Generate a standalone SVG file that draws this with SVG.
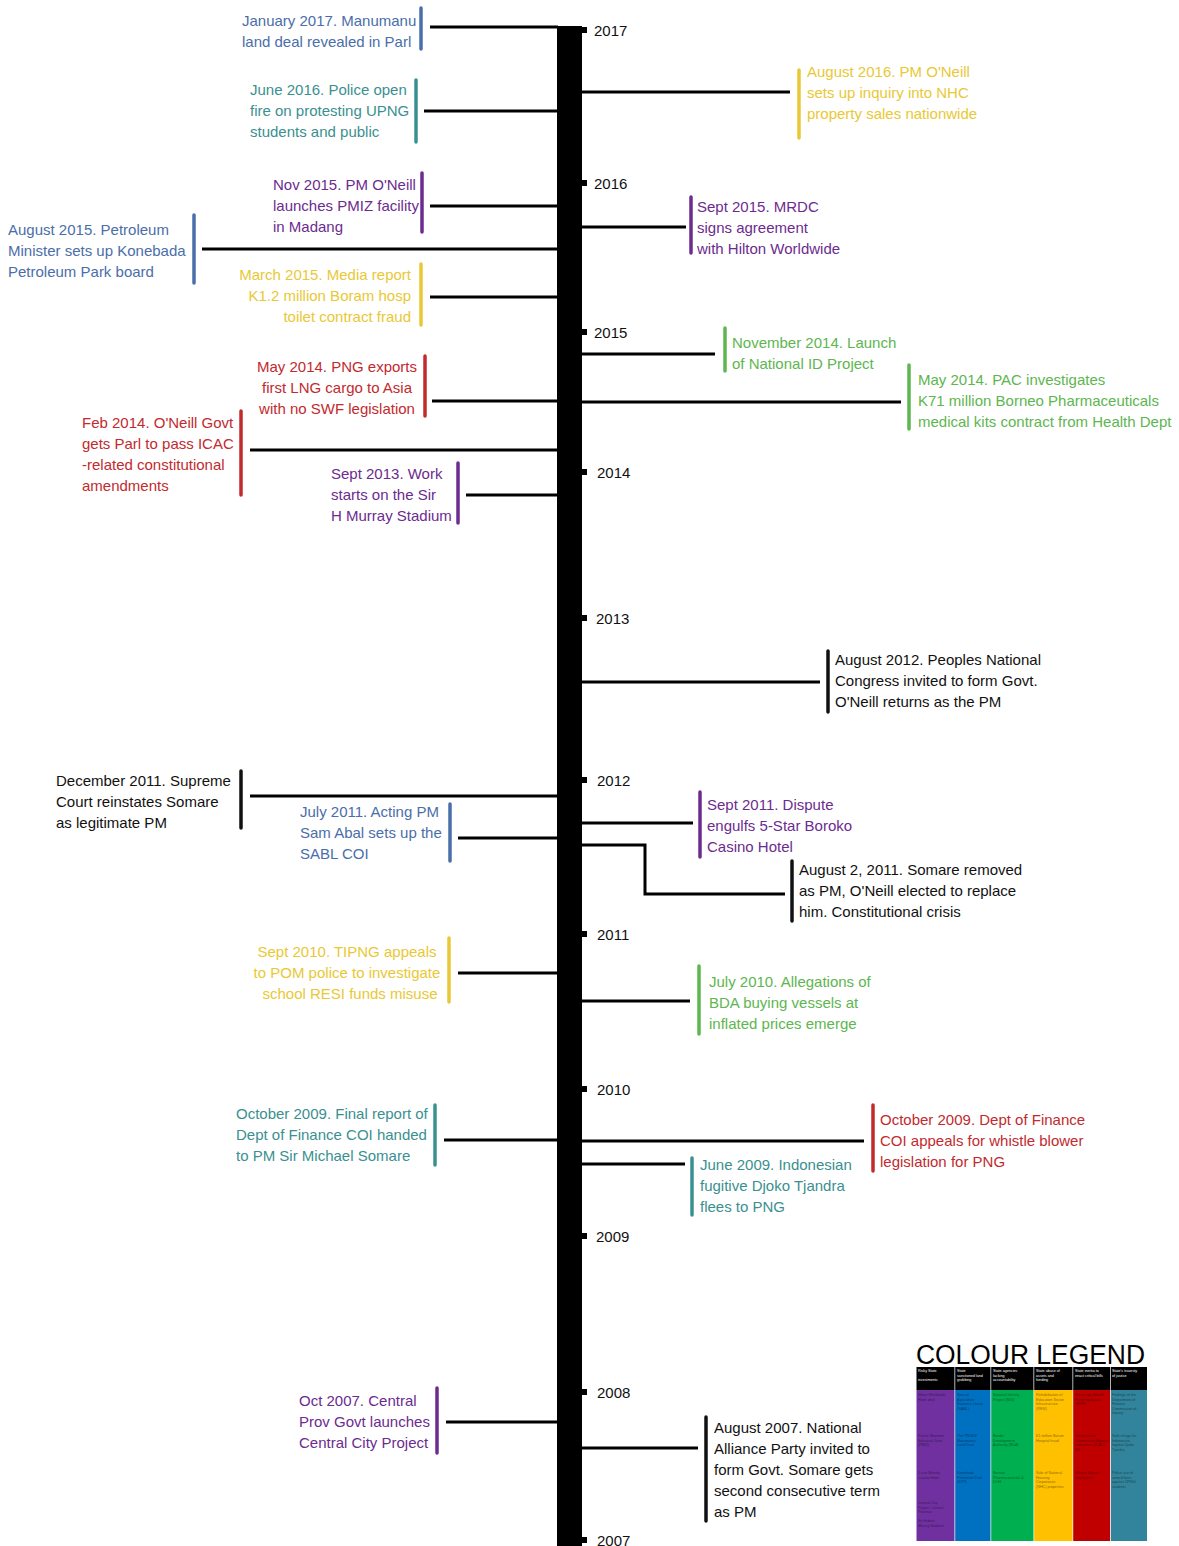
<svg xmlns="http://www.w3.org/2000/svg" width="1179" height="1546" viewBox="0 0 1179 1546">
<style>
text{font-family:"Liberation Sans",Arial,sans-serif;font-size:15px}
.blue{fill:#4a6ea9}.teal{fill:#3a9090}.purple{fill:#6c2b8f}.yellow{fill:#e9c834}.red{fill:#c22a2e}.green{fill:#5db64f}.black{fill:#111}
.bar{stroke-width:3.5;stroke-linecap:round;fill:none}
.bblue{stroke:#4a6ea9}.bteal{stroke:#3a9090}.bpurple{stroke:#6c2b8f}.byellow{stroke:#e9c834}.bred{stroke:#c22a2e}.bgreen{stroke:#5db64f}.bblack{stroke:#111}
.conn{stroke:#000;stroke-width:3;fill:none}
.year{fill:#111}
.lh text{font-size:3.7px;fill:#fff}
.lb text{font-size:3.7px;fill:rgba(0,0,0,0.5)}
</style>
<rect width="1179" height="1546" fill="#fff"/>
<g id="spine">
<rect x="557" y="26" width="25" height="1520" fill="#000"/>
<g fill="#000">
<rect x="580" y="27" width="7" height="6"/><rect x="580" y="180" width="7" height="6"/><rect x="580" y="329" width="7" height="6"/><rect x="580" y="469" width="7" height="6"/><rect x="580" y="615" width="7" height="6"/><rect x="580" y="777" width="7" height="6"/><rect x="580" y="931" width="7" height="6"/><rect x="580" y="1086" width="7" height="6"/><rect x="580" y="1233" width="7" height="6"/><rect x="580" y="1389" width="7" height="6"/><rect x="580" y="1537" width="7" height="6"/>
</g>
<g class="year">
<text x="594" y="36">2017</text><text x="594" y="189">2016</text><text x="594" y="338">2015</text><text x="597" y="478">2014</text><text x="596" y="624">2013</text><text x="597" y="786">2012</text><text x="597" y="940">2011</text><text x="597" y="1095">2010</text><text x="596" y="1242">2009</text><text x="597" y="1398">2008</text><text x="597" y="1546">2007</text>
</g>
</g>
<g id="connectors">
<line class="conn" x1="430" y1="27" x2="558" y2="27"/>
<line class="conn" x1="424" y1="111" x2="558" y2="111"/>
<line class="conn" x1="430" y1="206" x2="558" y2="206"/>
<line class="conn" x1="202" y1="249" x2="558" y2="249"/>
<line class="conn" x1="430" y1="297" x2="558" y2="297"/>
<line class="conn" x1="432" y1="401" x2="558" y2="401"/>
<line class="conn" x1="250" y1="450" x2="558" y2="450"/>
<line class="conn" x1="466" y1="495" x2="558" y2="495"/>
<line class="conn" x1="250" y1="796" x2="558" y2="796"/>
<line class="conn" x1="458" y1="838" x2="558" y2="838"/>
<line class="conn" x1="458" y1="973" x2="558" y2="973"/>
<line class="conn" x1="444" y1="1140" x2="558" y2="1140"/>
<line class="conn" x1="446" y1="1422" x2="558" y2="1422"/>
<line class="conn" x1="581" y1="92" x2="790" y2="92"/>
<line class="conn" x1="581" y1="227" x2="686" y2="227"/>
<line class="conn" x1="581" y1="354" x2="715" y2="354"/>
<line class="conn" x1="581" y1="402" x2="901" y2="402"/>
<line class="conn" x1="581" y1="682" x2="820" y2="682"/>
<line class="conn" x1="581" y1="823" x2="693" y2="823"/>
<polyline class="conn" points="581,845 645,845 645,894 785,894"/>
<line class="conn" x1="581" y1="1001" x2="690" y2="1001"/>
<line class="conn" x1="581" y1="1141" x2="864" y2="1141"/>
<line class="conn" x1="581" y1="1164" x2="685" y2="1164"/>
<line class="conn" x1="581" y1="1448" x2="698" y2="1448"/>
</g>
<g id="n-jan2017">
<line class="bar bblue" x1="421" y1="8" x2="421" y2="49"/>
<text class="blue" x="242" y="26">January 2017. Manumanu<tspan x="242" dy="21">land deal revealed in Parl</tspan></text>
</g>
<g id="n-jun2016">
<line class="bar bteal" x1="416" y1="80" x2="416" y2="142"/>
<text class="teal" x="250" y="95">June 2016. Police open<tspan x="250" dy="21">fire on protesting UPNG</tspan><tspan x="250" dy="21">students and public</tspan></text>
</g>
<g id="n-nov2015">
<line class="bar bpurple" x1="422" y1="173" x2="422" y2="232"/>
<text class="purple" x="273" y="190">Nov 2015. PM O'Neill<tspan x="273" dy="21">launches PMIZ facility</tspan><tspan x="273" dy="21">in Madang</tspan></text>
</g>
<g id="n-aug2015">
<line class="bar bblue" x1="194" y1="215" x2="194" y2="283"/>
<text class="blue" x="8" y="235">August 2015. Petroleum<tspan x="8" dy="21">Minister sets up Konebada</tspan><tspan x="8" dy="21">Petroleum Park board</tspan></text>
</g>
<g id="n-mar2015">
<line class="bar byellow" x1="421" y1="264" x2="421" y2="325"/>
<text class="yellow" x="411" y="280" text-anchor="end">March 2015. Media report<tspan x="411" dy="21">K1.2 million Boram hosp</tspan><tspan x="411" dy="21">toilet contract fraud</tspan></text>
</g>
<g id="n-may2014a">
<line class="bar bred" x1="425" y1="356" x2="425" y2="416"/>
<text class="red" x="337" y="372" text-anchor="middle">May 2014. PNG exports<tspan x="337" dy="21">first LNG cargo to Asia</tspan><tspan x="337" dy="21">with no SWF legislation</tspan></text>
</g>
<g id="n-feb2014">
<line class="bar bred" x1="241" y1="411" x2="241" y2="495"/>
<text class="red" x="82" y="428">Feb 2014. O'Neill Govt<tspan x="82" dy="21">gets Parl to pass ICAC</tspan><tspan x="82" dy="21">-related constitutional</tspan><tspan x="82" dy="21">amendments</tspan></text>
</g>
<g id="n-sep2013">
<line class="bar bpurple" x1="458" y1="463" x2="458" y2="523"/>
<text class="purple" x="331" y="479">Sept 2013. Work<tspan x="331" dy="21">starts on the Sir</tspan><tspan x="331" dy="21">H Murray Stadium</tspan></text>
</g>
<g id="n-dec2011">
<line class="bar bblack" x1="241" y1="771" x2="241" y2="828"/>
<text class="black" x="56" y="786">December 2011. Supreme<tspan x="56" dy="21">Court reinstates Somare</tspan><tspan x="56" dy="21">as legitimate PM</tspan></text>
</g>
<g id="n-jul2011">
<line class="bar bblue" x1="450" y1="804" x2="450" y2="861"/>
<text class="blue" x="300" y="817">July 2011. Acting PM<tspan x="300" dy="21">Sam Abal sets up the</tspan><tspan x="300" dy="21">SABL COI</tspan></text>
</g>
<g id="n-sep2010">
<line class="bar byellow" x1="449" y1="938" x2="449" y2="1002"/>
<text class="yellow" x="347" y="957" text-anchor="middle">Sept 2010. TIPNG appeals<tspan x="347" dy="21">to POM police to investigate</tspan><tspan x="350" dy="21">school RESI funds misuse</tspan></text>
</g>
<g id="n-oct2009a">
<line class="bar bteal" x1="435" y1="1105" x2="435" y2="1165"/>
<text class="teal" x="236" y="1119">October 2009. Final report of<tspan x="236" dy="21">Dept of Finance COI handed</tspan><tspan x="236" dy="21">to PM Sir Michael Somare</tspan></text>
</g>
<g id="n-oct2007">
<line class="bar bpurple" x1="437" y1="1388" x2="437" y2="1453"/>
<text class="purple" x="299" y="1406">Oct 2007. Central<tspan x="299" dy="21">Prov Govt launches</tspan><tspan x="299" dy="21">Central City Project</tspan></text>
</g>
<g id="n-aug2016">
<line class="bar byellow" x1="799" y1="70" x2="799" y2="138"/>
<text class="yellow" x="807" y="77">August 2016. PM O'Neill<tspan x="807" dy="21">sets up inquiry into NHC</tspan><tspan x="807" dy="21">property sales nationwide</tspan></text>
</g>
<g id="n-sep2015">
<line class="bar bpurple" x1="691" y1="197" x2="691" y2="253"/>
<text class="purple" x="697" y="212">Sept 2015. MRDC<tspan x="697" dy="21">signs agreement</tspan><tspan x="697" dy="21">with Hilton Worldwide</tspan></text>
</g>
<g id="n-nov2014">
<line class="bar bgreen" x1="725" y1="328" x2="725" y2="371"/>
<text class="green" x="732" y="348">November 2014. Launch<tspan x="732" dy="21">of National ID Project</tspan></text>
</g>
<g id="n-may2014b">
<line class="bar bgreen" x1="909" y1="365" x2="909" y2="429"/>
<text class="green" x="918" y="385">May 2014. PAC investigates<tspan x="918" dy="21">K71 million Borneo Pharmaceuticals</tspan><tspan x="918" dy="21">medical kits contract from Health Dept</tspan></text>
</g>
<g id="n-aug2012">
<line class="bar bblack" x1="828" y1="651" x2="828" y2="712"/>
<text class="black" x="835" y="665">August 2012. Peoples National<tspan x="835" dy="21">Congress invited to form Govt.</tspan><tspan x="835" dy="21">O'Neill returns as the PM</tspan></text>
</g>
<g id="n-sep2011">
<line class="bar bpurple" x1="700" y1="792" x2="700" y2="857"/>
<text class="purple" x="707" y="810">Sept 2011. Dispute<tspan x="707" dy="21">engulfs 5-Star Boroko</tspan><tspan x="707" dy="21">Casino Hotel</tspan></text>
</g>
<g id="n-aug2011">
<line class="bar bblack" x1="792" y1="861" x2="792" y2="921"/>
<text class="black" x="799" y="875">August 2, 2011. Somare removed<tspan x="799" dy="21">as PM, O'Neill elected to replace</tspan><tspan x="799" dy="21">him. Constitutional crisis</tspan></text>
</g>
<g id="n-jul2010">
<line class="bar bgreen" x1="699" y1="966" x2="699" y2="1034"/>
<text class="green" x="709" y="987">July 2010. Allegations of<tspan x="709" dy="21">BDA buying vessels at</tspan><tspan x="709" dy="21">inflated prices emerge</tspan></text>
</g>
<g id="n-oct2009b">
<line class="bar bred" x1="873" y1="1105" x2="873" y2="1171"/>
<text class="red" x="880" y="1125">October 2009. Dept of Finance<tspan x="880" dy="21">COI appeals for whistle blower</tspan><tspan x="880" dy="21">legislation for PNG</tspan></text>
</g>
<g id="n-jun2009">
<line class="bar bteal" x1="692" y1="1158" x2="692" y2="1215"/>
<text class="teal" x="700" y="1170">June 2009. Indonesian<tspan x="700" dy="21">fugitive Djoko Tjandra</tspan><tspan x="700" dy="21">flees to PNG</tspan></text>
</g>
<g id="n-aug2007">
<line class="bar bblack" x1="706" y1="1417" x2="706" y2="1521"/>
<text class="black" x="714" y="1433">August 2007. National<tspan x="714" dy="21">Alliance Party invited to</tspan><tspan x="714" dy="21">form Govt. Somare gets</tspan><tspan x="714" dy="21">second consecutive term</tspan><tspan x="714" dy="21">as PM</tspan></text>
</g>
<g id="legend">
<text x="916" y="1364" font-size="27" textLength="229" lengthAdjust="spacingAndGlyphs" style="font-size:27px" fill="#000">COLOUR LEGEND</text>
<rect x="916.5" y="1390" width="38.5" height="151" fill="#7030a0"/>
<rect x="955" y="1390" width="36" height="151" fill="#0070c0"/>
<rect x="991" y="1390" width="43" height="151" fill="#00b050"/>
<rect x="1034" y="1390" width="39" height="151" fill="#ffc000"/>
<rect x="1073" y="1390" width="37.5" height="151" fill="#c00000"/>
<rect x="1110.5" y="1390" width="36.5" height="151" fill="#31849b"/>
<rect x="916.5" y="1367" width="230.5" height="23" fill="#000"/>
<g fill="#fff" stroke="none">
<rect x="954.5" y="1367" width="0.7" height="174"/><rect x="990.5" y="1367" width="0.7" height="174"/><rect x="1033.5" y="1367" width="0.7" height="174"/><rect x="1072.5" y="1367" width="0.7" height="174"/><rect x="1110" y="1367" width="0.7" height="174"/>
</g>
<g class="lh">
<text x="918" y="1372">Risky State<tspan x="918" dy="9">investments</tspan></text>
<text x="957" y="1372">State<tspan x="957" dy="4.6">sanctioned land</tspan><tspan x="957" dy="4.6">grabbing</tspan></text>
<text x="993" y="1372">State agencies<tspan x="993" dy="4.6">lacking</tspan><tspan x="993" dy="4.6">accountability</tspan></text>
<text x="1036" y="1372">State abuse of<tspan x="1036" dy="4.6">assets and</tspan><tspan x="1036" dy="4.6">funding</tspan></text>
<text x="1075" y="1372">State inertia to<tspan x="1075" dy="4.6">enact critical bills</tspan></text>
<text x="1112" y="1372">State's travesty<tspan x="1112" dy="4.6">of justice</tspan></text>
</g>
<g class="lb">
<text x="918" y="1396">Hilton Worldwide<tspan x="918" dy="4.6">Hotel deal</tspan></text>
<text x="918" y="1437">Pacific Maritime<tspan x="918" dy="4.6">Industrial Zone</tspan><tspan x="918" dy="4.6">(PMIZ)</tspan></text>
<text x="918" y="1474">5-star Boroko<tspan x="918" dy="4.6">Casino Hotel</tspan></text>
<text x="918" y="1504">Central City<tspan x="918" dy="4.6">Project, Central</tspan><tspan x="918" dy="4.6">Province</tspan></text>
<text x="918" y="1522">Sir Hubert<tspan x="918" dy="4.6">Murray Stadium</tspan></text>
<text x="957" y="1396">Special<tspan x="957" dy="4.6">Agriculture</tspan><tspan x="957" dy="4.6">Business Lease</tspan><tspan x="957" dy="4.6">(SABL)</tspan></text>
<text x="957" y="1437">The PNGDF<tspan x="957" dy="4.6">Manumanu</tspan><tspan x="957" dy="4.6">Land Deal</tspan></text>
<text x="957" y="1474">Konebada<tspan x="957" dy="4.6">Petroleum Park</tspan><tspan x="957" dy="4.6">(KPP)</tspan></text>
<text x="993" y="1396">National Identity<tspan x="993" dy="4.6">Project (NID)</tspan></text>
<text x="993" y="1437">Border<tspan x="993" dy="4.6">Development</tspan><tspan x="993" dy="4.6">Authority (BDA)</tspan></text>
<text x="993" y="1474">Borneo<tspan x="993" dy="4.6">Pharmaceuticals &amp;</tspan><tspan x="993" dy="4.6">DOH</tspan></text>
<text x="1036" y="1396">Rehabilitation of<tspan x="1036" dy="4.6">Education Sector</tspan><tspan x="1036" dy="4.6">Infrastructure</tspan><tspan x="1036" dy="4.6">(RESI)</tspan></text>
<text x="1036" y="1437">K1 million Boram<tspan x="1036" dy="4.6">Hospital fraud</tspan></text>
<text x="1036" y="1474">Sale of National<tspan x="1036" dy="4.6">Housing</tspan><tspan x="1036" dy="4.6">Corporation</tspan><tspan x="1036" dy="4.6">(NHC) properties</tspan></text>
<text x="1075" y="1396">Sovereign Wealth<tspan x="1075" dy="4.6">Fund legislation</tspan><tspan x="1075" dy="4.6">(SWF)</tspan></text>
<text x="1075" y="1437">Independent<tspan x="1075" dy="4.6">Commission Against</tspan><tspan x="1075" dy="4.6">Corruption (ICAC)</tspan><tspan x="1075" dy="4.6">Bill</tspan></text>
<text x="1075" y="1474">Whistle Blower<tspan x="1075" dy="4.6">Legislation</tspan></text>
<text x="1112" y="1396">Findings of the<tspan x="1112" dy="4.6">Department of</tspan><tspan x="1112" dy="4.6">Finance</tspan><tspan x="1112" dy="4.6">Commission of</tspan><tspan x="1112" dy="4.6">Inquiry</tspan></text>
<text x="1112" y="1437">Safe refuge for<tspan x="1112" dy="4.6">Indonesian</tspan><tspan x="1112" dy="4.6">fugitive Djoko</tspan><tspan x="1112" dy="4.6">Tjandra</tspan></text>
<text x="1112" y="1474">Police use of<tspan x="1112" dy="4.6">armed force</tspan><tspan x="1112" dy="4.6">against UPNG</tspan><tspan x="1112" dy="4.6">students</tspan></text>
</g>
</g>
</svg>
